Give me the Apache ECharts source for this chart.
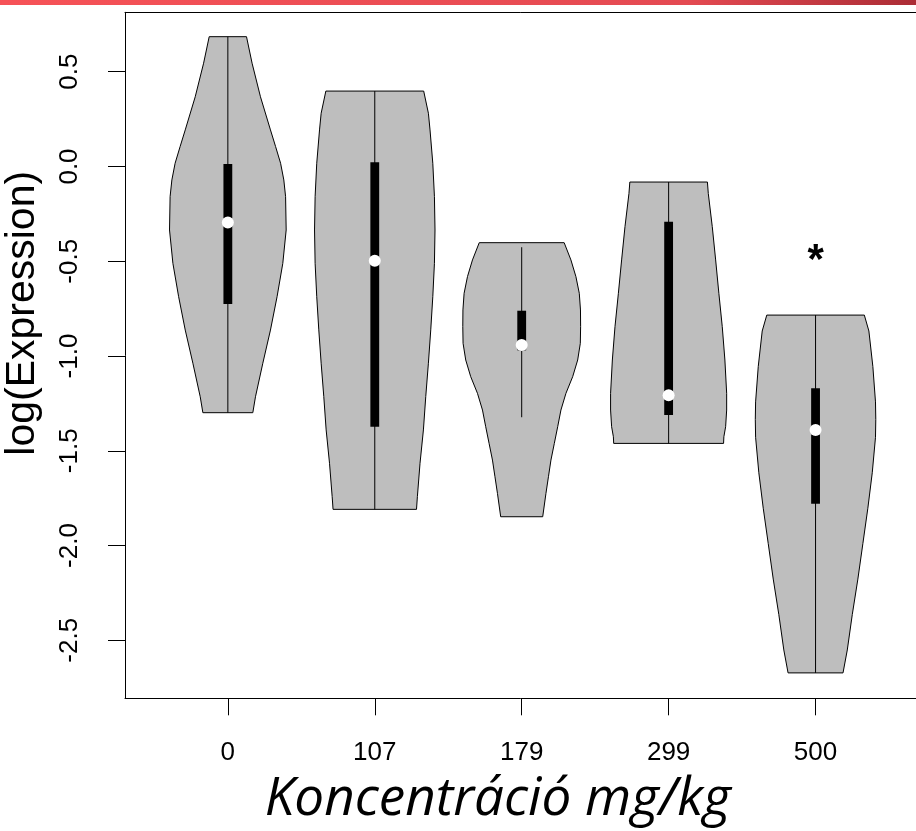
<!DOCTYPE html>
<html>
<head>
<meta charset="utf-8">
<script src="https://cdn.jsdelivr.net/npm/echarts@6/dist/echarts.min.js"></script>
<style>
  html, body { margin: 0; padding: 0; background: #ffffff; }
  #chart { width: 916px; height: 831px; }
</style>
</head>
<body>
<div id="chart"></div>
<script>
// Dose groups (x axis categories)
const concentrations = ['0', '107', '179', '299', '500'];

// Density outline of each violin: log(Expression) levels and half widths (x units)
const levels0 = [0.685, 0.545, 0.368, 0.193, 0.105, 0.017, -0.071, -0.159, -0.335, -0.511, -0.687, -0.863, -1.038, -1.215, -1.299];
const widths0 = [0.127, 0.165, 0.222, 0.290, 0.325, 0.359, 0.381, 0.393, 0.397, 0.374, 0.335, 0.290, 0.238, 0.188, 0.170];

const levels1 = [0.398, 0.281, 0.193, 0.017, -0.159, -0.335, -0.511, -0.687, -0.862, -1.038, -1.214, -1.390, -1.566, -1.742, -1.809];
const widths1 = [0.333, 0.365, 0.376, 0.395, 0.406, 0.410, 0.406, 0.395, 0.381, 0.365, 0.347, 0.331, 0.308, 0.290, 0.284];

const levels2 = [-0.402, -0.493, -0.581, -0.669, -0.757, -0.845, -0.933, -1.021, -1.109, -1.197, -1.285, -1.373, -1.461, -1.549, -1.637, -1.725, -1.848];
const widths2 = [0.289, 0.335, 0.369, 0.392, 0.400, 0.401, 0.399, 0.381, 0.347, 0.301, 0.267, 0.245, 0.222, 0.199, 0.182, 0.165, 0.143];

const levels3 = [-0.082, -0.142, -0.317, -0.493, -0.669, -0.845, -1.021, -1.197, -1.285, -1.373, -1.426, -1.461];
const widths3 = [0.264, 0.270, 0.297, 0.320, 0.342, 0.365, 0.383, 0.395, 0.395, 0.388, 0.376, 0.374];

const levels4 = [-0.784, -0.868, -1.055, -1.242, -1.335, -1.429, -1.616, -1.803, -1.990, -2.177, -2.364, -2.551, -2.672];
const widths4 = [0.332, 0.363, 0.390, 0.408, 0.410, 0.408, 0.386, 0.356, 0.322, 0.288, 0.250, 0.216, 0.187];

// Box summary per group
const upperAdjacent = [0.685, 0.398, -0.426, -0.082, -0.784];
const lowerAdjacent = [-1.299, -1.809, -1.323, -1.461, -2.672];
const upperQuartile = [0.013, 0.022, -0.761, -0.291, -1.170];
const lowerQuartile = [-0.725, -1.373, -0.970, -1.311, -1.780];
const medians = [-0.295, -0.497, -0.942, -1.207, -1.390];

// Significance marks
const significance = ['', '', '', '', '*'];

// Axis ticks
const yTicks = [-2.5, -2.0, -1.5, -1.0, -0.5, 0.0, 0.5];
const xTicks = [1, 2, 3, 4, 5];

const allLevels = [levels0, levels1, levels2, levels3, levels4];
const allWidths = [widths0, widths1, widths2, widths3, widths4];

const chart = echarts.init(document.getElementById('chart'), null, { renderer: 'canvas' });

const BOX_HALF = 0.03;

function renderViolin(params, api) {
  const i = params.dataIndex;
  const c = api.value(0);
  const lv = allLevels[i];
  const wd = allWidths[i];
  const pts = [];
  for (let k = 0; k < lv.length; k++) pts.push(api.coord([c + wd[k], lv[k]]));
  for (let k = lv.length - 1; k >= 0; k--) pts.push(api.coord([c - wd[k], lv[k]]));

  const top = api.coord([c, upperAdjacent[i]]);
  const bot = api.coord([c, lowerAdjacent[i]]);
  const boxTL = api.coord([c - BOX_HALF, upperQuartile[i]]);
  const boxBR = api.coord([c + BOX_HALF, lowerQuartile[i]]);
  const med = api.coord([c, medians[i]]);
  const peak = api.coord([c, lv[0]]);

  const children = [
    {
      type: 'polygon',
      shape: { points: pts },
      style: { fill: '#bebebe', stroke: '#000000', lineWidth: 1 }
    },
    {
      type: 'line',
      shape: { x1: top[0], y1: top[1], x2: bot[0], y2: bot[1] },
      style: { stroke: '#000000', lineWidth: 1 }
    },
    {
      type: 'rect',
      shape: { x: boxTL[0], y: boxTL[1], width: boxBR[0] - boxTL[0], height: boxBR[1] - boxTL[1] },
      style: { fill: '#000000' }
    },
    {
      type: 'circle',
      shape: { cx: med[0], cy: med[1], r: 6 },
      style: { fill: '#ffffff' }
    }
  ];
  if (significance[i]) {
    children.push({
      type: 'text',
      x: peak[0],
      y: peak[1] - 54,
      style: {
        text: significance[i],
        fontFamily: 'Liberation Sans',
        fontWeight: 'bold',
        fontSize: 42,
        fill: '#000000',
        align: 'center',
        verticalAlign: 'middle'
      }
    });
  }
  return { type: 'group', children: children };
}

const axisStroke = { color: '#000000', width: 1 };

const option = {
  animation: false,
  backgroundColor: '#ffffff',
  graphic: [
    {
      type: 'rect',
      left: 0,
      top: 0,
      shape: { width: 916, height: 5 },
      style: {
        fill: new echarts.graphic.LinearGradient(0, 0, 1, 0, [
          { offset: 0, color: '#f65257' },
          { offset: 0.75, color: '#e44a52' },
          { offset: 1, color: '#ab2c35' }
        ])
      },
      z: 10
    }
  ],
  grid: {
    left: 125,
    top: 12.3,
    width: 793.4,
    height: 686,
    outerBoundsMode: 'none',
    containLabel: false,
    show: false
  },
  xAxis: [
    {
      type: 'value',
      min: 0.3,
      max: 5.7,
      splitLine: { show: false },
      axisLine: { show: true, onZero: false, lineStyle: axisStroke },
      axisTick: { show: true, length: 17, customValues: xTicks, lineStyle: axisStroke },
      axisLabel: {
        customValues: xTicks,
        formatter: function (v) { return concentrations[Math.round(v) - 1]; },
        fontFamily: 'Liberation Sans',
        fontSize: 26,
        color: '#000000',
        margin: 42
      },
      name: 'Koncentráció mg/kg',
      nameLocation: 'middle',
      nameGap: 75,
      nameTextStyle: {
        fontFamily: 'Open Sans',
        fontStyle: 'italic',
        fontSize: 53,
        color: '#000000',
        padding: [0, 48, 0, 0]
      }
    },
    {
      // top edge of the plot box
      type: 'value',
      position: 'top',
      min: 0.3,
      max: 5.7,
      splitLine: { show: false },
      axisLine: { show: true, onZero: false, lineStyle: axisStroke },
      axisTick: { show: false },
      axisLabel: { show: false }
    }
  ],
  yAxis: {
    type: 'value',
    min: -2.806,
    max: 0.8136,
    splitLine: { show: false },
    axisLine: { show: true, onZero: false, lineStyle: axisStroke },
    axisTick: { show: true, length: 17, customValues: yTicks, lineStyle: axisStroke },
    axisLabel: {
      customValues: yTicks,
      rotate: 90,
      formatter: function (v) { return v.toFixed(1); },
      fontFamily: 'Liberation Sans',
      fontSize: 26,
      color: '#000000',
      margin: 42
    },
    name: 'log(Expression)',
    nameLocation: 'middle',
    nameRotate: 90,
    nameGap: 82,
    nameTextStyle: {
      fontFamily: 'Liberation Sans',
      fontSize: 41,
      color: '#000000',
      padding: [0, 0, 0, 84]
    }
  },
  series: [
    {
      type: 'custom',
      renderItem: renderViolin,
      xAxisIndex: 0,
      yAxisIndex: 0,
      encode: { x: 0, y: 1 },
      data: concentrations.map(function (_, i) { return [i + 1, medians[i]]; }),
      clip: false,
      z: 5
    }
  ]
};

chart.setOption(option);
</script>
</body>
</html>
